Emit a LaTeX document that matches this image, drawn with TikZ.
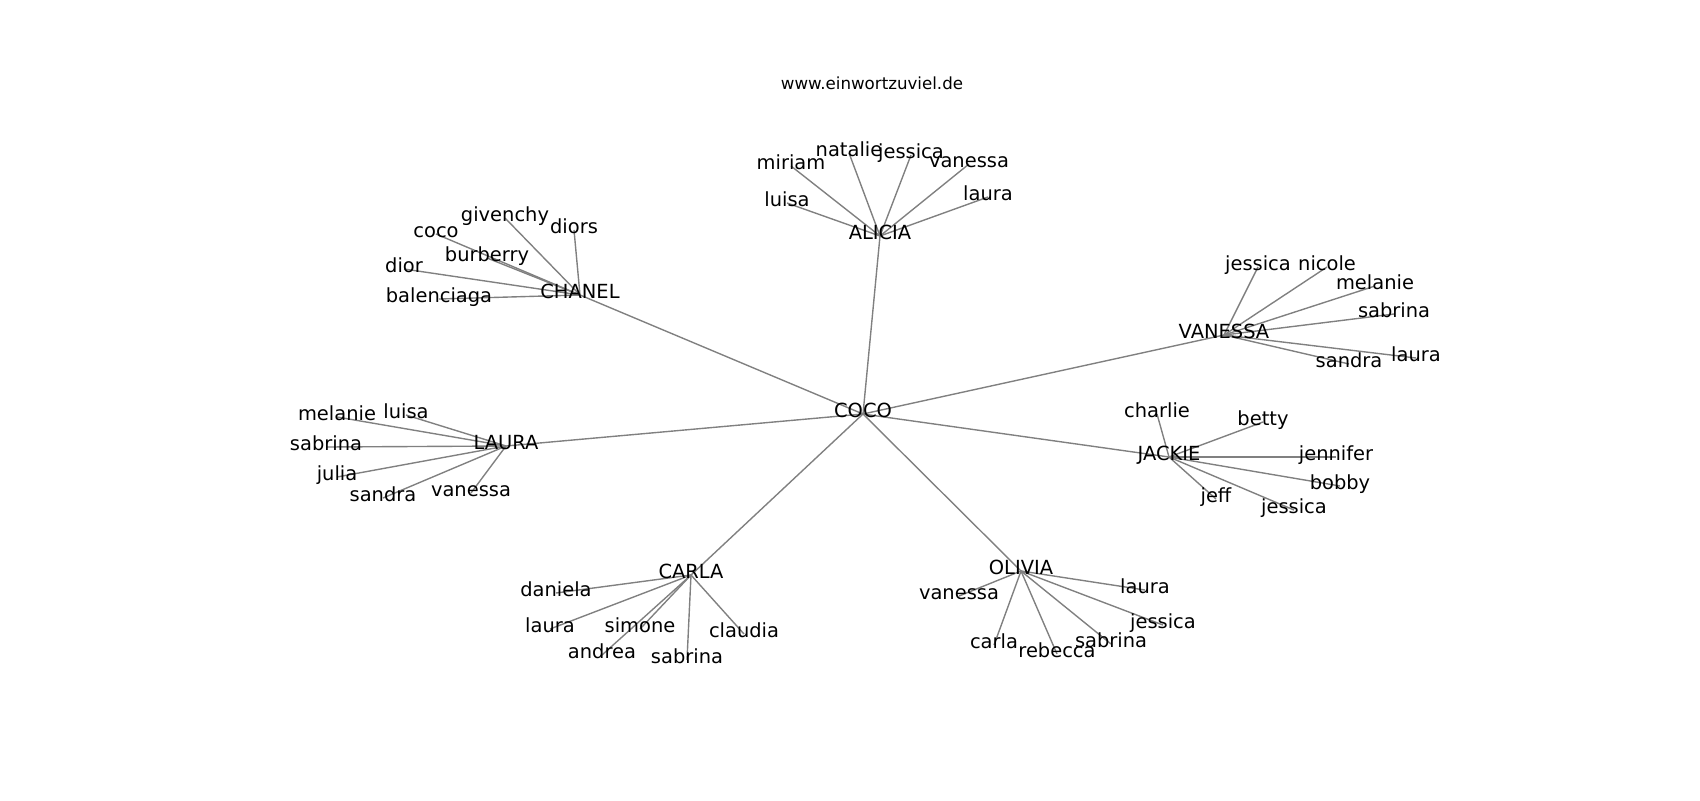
\documentclass[tikz,border=0pt]{standalone}
\usepackage{fontspec}
\setmainfont{DejaVu Sans}
\usetikzlibrary{backgrounds}
\tikzset{
  lbl/.style={inner sep=0pt, outer sep=0pt, anchor=center, text height=0.76em, text depth=0.208em, font=\fontsize{14}{16}\selectfont},
  ttl/.style={inner sep=0pt, outer sep=0pt, anchor=center, text height=0.76em, text depth=0.208em, font=\fontsize{12}{14}\selectfont},
  edge/.style={draw=black!50, line width=1pt}
}
\begin{document}
\begin{tikzpicture}[x=0.72pt, y=-0.72pt]
\useasboundingbox (0,-3) rectangle (1700,797);
\node[ttl] (title) at (872,83) {www.einwortzuviel.de};
% hubs
\node[lbl] (coco) at (863,411) {COCO};
\node[lbl] (chanel) at (580,292) {CHANEL};
\node[lbl] (alicia) at (880,233) {ALICIA};
\node[lbl] (vanessa) at (1224,332) {VANESSA};
\node[lbl] (jackie) at (1169,454) {JACKIE};
\node[lbl] (olivia) at (1021,568) {OLIVIA};
\node[lbl] (carla) at (691,572) {CARLA};
\node[lbl] (laura) at (506,443) {LAURA};
% chanel
\node[lbl] (ch1) at (505,215) {givenchy};
\node[lbl] (ch2) at (574,227) {diors};
\node[lbl] (ch3) at (436,231) {coco};
\node[lbl] (ch4) at (487,255) {burberry};
\node[lbl] (ch5) at (404,266) {dior};
\node[lbl] (ch6) at (439,296) {balenciaga};
% alicia
\node[lbl] (al1) at (849,150) {natalie};
\node[lbl] (al2) at (911,152) {jessica};
\node[lbl] (al3) at (791,163) {miriam};
\node[lbl] (al4) at (969,161) {vanessa};
\node[lbl] (al5) at (787,200) {luisa};
\node[lbl] (al6) at (988,194) {laura};
% vanessa
\node[lbl] (va1) at (1258,264) {jessica};
\node[lbl] (va2) at (1327,264) {nicole};
\node[lbl] (va3) at (1375,283) {melanie};
\node[lbl] (va4) at (1394,311) {sabrina};
\node[lbl] (va5) at (1416,355) {laura};
\node[lbl] (va6) at (1349,361) {sandra};
% jackie
\node[lbl] (ja1) at (1157,411) {charlie};
\node[lbl] (ja2) at (1263,419) {betty};
\node[lbl] (ja3) at (1336,454) {jennifer};
\node[lbl] (ja4) at (1340,483) {bobby};
\node[lbl] (ja5) at (1294,507) {jessica};
\node[lbl] (ja6) at (1216,496) {jeff};
% laura
\node[lbl] (la1) at (337,414) {melanie};
\node[lbl] (la2) at (406,412) {luisa};
\node[lbl] (la3) at (326,444) {sabrina};
\node[lbl] (la4) at (337,474) {julia};
\node[lbl] (la5) at (383,495) {sandra};
\node[lbl] (la6) at (471,490) {vanessa};
% carla
\node[lbl] (ca1) at (556,590) {daniela};
\node[lbl] (ca2) at (550,626) {laura};
\node[lbl] (ca3) at (640,626) {simone};
\node[lbl] (ca4) at (744,631) {claudia};
\node[lbl] (ca5) at (602,652) {andrea};
\node[lbl] (ca6) at (687,657) {sabrina};
% olivia
\node[lbl] (ol1) at (959,593) {vanessa};
\node[lbl] (ol2) at (1145,587) {laura};
\node[lbl] (ol3) at (1163,622) {jessica};
\node[lbl] (ol4) at (1111,641) {sabrina};
\node[lbl] (ol5) at (994,642) {carla};
\node[lbl] (ol6) at (1057,651) {rebecca};
\begin{pgfonlayer}{background}
\foreach \h in {chanel,alicia,vanessa,jackie,olivia,carla,laura}
  \draw[edge] (coco.center) -- (\h.center);
\foreach \c in {ch1,ch2,ch3,ch4,ch5,ch6}
  \draw[edge] (chanel.center) -- (\c.center);
\foreach \c in {al1,al2,al3,al4,al5,al6}
  \draw[edge] (alicia.center) -- (\c.center);
\foreach \c in {va1,va2,va3,va4,va5,va6}
  \draw[edge] (vanessa.center) -- (\c.center);
\foreach \c in {ja1,ja2,ja3,ja4,ja5,ja6}
  \draw[edge] (jackie.center) -- (\c.center);
\foreach \c in {la1,la2,la3,la4,la5,la6}
  \draw[edge] (laura.center) -- (\c.center);
\foreach \c in {ca1,ca2,ca3,ca4,ca5,ca6}
  \draw[edge] (carla.center) -- (\c.center);
\foreach \c in {ol1,ol2,ol3,ol4,ol5,ol6}
  \draw[edge] (olivia.center) -- (\c.center);
\end{pgfonlayer}
\end{tikzpicture}
\end{document}
